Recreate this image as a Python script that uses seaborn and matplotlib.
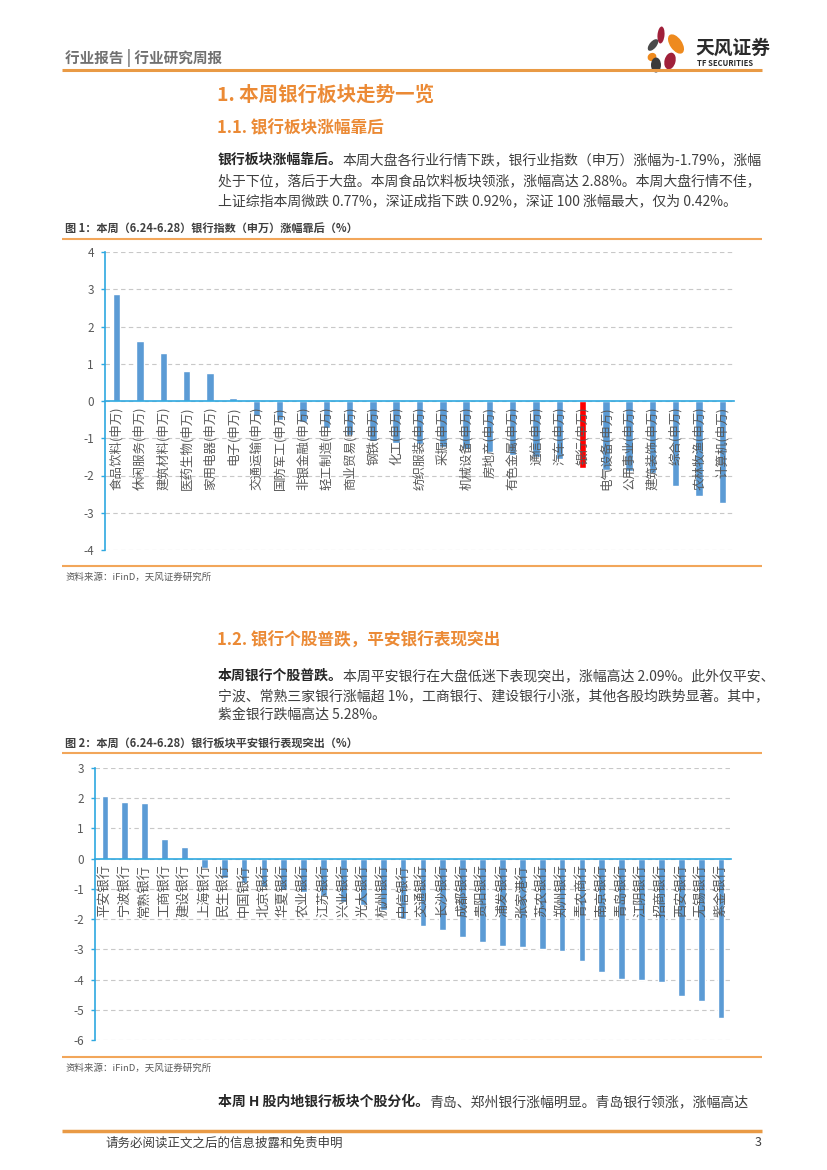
import matplotlib
matplotlib.use('Agg')
import matplotlib.pyplot as plt
import matplotlib.transforms as mtransforms
import seaborn as sns
import numpy as np
import pandas as pd
from matplotlib.patches import Ellipse

sns.set_theme(style='white')
plt.rcParams['font.family'] = ['Noto Sans CJK SC', 'DejaVu Sans']
plt.rcParams['axes.unicode_minus'] = False

# ---------------- data ----------------
industries = ['食品饮料(申万)', '休闲服务(申万)', '建筑材料(申万)', '医药生物(申万)', '家用电器(申万)',
              '电子(申万)', '交通运输(申万)', '国防军工(申万)', '非银金融(申万)', '轻工制造(申万)',
              '商业贸易(申万)', '钢铁(申万)', '化工(申万)', '纺织服装(申万)', '采掘(申万)',
              '机械设备(申万)', '房地产(申万)', '有色金属(申万)', '通信(申万)', '汽车(申万)',
              '银行(申万)', '电气设备(申万)', '公用事业(申万)', '建筑装饰(申万)', '综合(申万)',
              '农林牧渔(申万)', '计算机(申万)']
industry_change = [2.88, 1.61, 1.30, 0.80, 0.74, 0.07, -0.40, -0.50, -0.56, -0.73,
                   -0.90, -1.07, -1.12, -1.15, -1.24, -1.29, -1.38, -1.44, -1.51, -1.55,
                   -1.79, -1.84, -1.88, -1.92, -2.27, -2.55, -2.73]
highlight_industry = '银行(申万)'

banks = ['平安银行', '宁波银行', '常熟银行', '工商银行', '建设银行', '上海银行', '民生银行', '中国银行',
         '北京银行', '华夏银行', '农业银行', '江苏银行', '兴业银行', '光大银行', '杭州银行', '中信银行',
         '交通银行', '长沙银行', '成都银行', '贵阳银行', '浦发银行', '张家港行', '苏农银行', '郑州银行',
         '青农商行', '南京银行', '青岛银行', '江阴银行', '招商银行', '西安银行', '无锡银行', '紫金银行']
bank_change = [2.09, 1.86, 1.83, 0.66, 0.39, -0.32, -0.65, -0.82, -0.93, -1.04, -1.09, -1.25,
               -1.45, -1.53, -1.70, -1.98, -2.22, -2.36, -2.60, -2.75, -2.89, -2.92, -3.00, -3.07,
               -3.40, -3.74, -3.99, -4.01, -4.09, -4.53, -4.71, -5.28]

chart1_yticks = [-4, -3, -2, -1, 0, 1, 2, 3, 4]
chart2_yticks = [-6, -5, -4, -3, -2, -1, 0, 1, 2, 3]

# ---------------- styles ----------------
W, H = 827, 1170
BLUE = '#5B9BD5'
RED = '#FF0000'
AXIS = '#2EA8E0'
ORANGE = '#EB8A35'
LINE_OR = '#F2A65A'
TXT = '#3F3F3F'
GRAY = '#595959'

fig = plt.figure(figsize=(W / 100, H / 100), dpi=100)
deco = fig.add_axes([0, 0, 1, 1])
deco.set_xlim(0, W)
deco.set_ylim(H, 0)
deco.axis('off')
renderer = fig.canvas.get_renderer()


def px_axes(l, t, r, b):
    return fig.add_axes([l / W, 1 - b / H, (r - l) / W, (b - t) / H])


def bar_chart(ax, cats, vals, yticks, highlight=None, width=0.32, label_size=8.5):
    df = pd.DataFrame({'cat': cats, 'val': vals})
    colors = [RED if c == highlight else BLUE for c in cats]
    sns.barplot(data=df, x='cat', y='val', hue='cat', palette=colors, legend=False,
                width=width, saturation=1, ax=ax, zorder=2)
    n = len(cats)
    ax.set_xlim(-0.5, n - 0.5)
    ax.set_ylim(min(yticks), max(yticks))
    ax.set_yticks(yticks)
    ax.set_xlabel('')
    ax.set_ylabel('')
    ax.set_facecolor('none')
    ax.yaxis.grid(True, ls=(0, (4, 3)), color='#C8C8C8', lw=0.8)
    ax.xaxis.grid(False)
    ax.set_axisbelow(True)
    for s in ['top', 'right']:
        ax.spines[s].set_visible(False)
    ax.spines['bottom'].set_position(('data', 0))
    ax.spines['bottom'].set_color(AXIS)
    ax.spines['left'].set_color(AXIS)
    ax.spines['bottom'].set_linewidth(1.2)
    ax.spines['left'].set_linewidth(1.2)
    ax.spines['bottom'].set_zorder(3)
    ax.set_xticks(range(n))
    ax.set_xticklabels([''] * n)
    ax.set_xticks(np.arange(-0.5, n, 1), minor=True)
    ax.tick_params(axis='x', which='major', length=0, pad=3)
    ax.tick_params(axis='x', which='minor', length=3, color=AXIS, width=1, direction='out')
    ax.tick_params(axis='y', length=3, color=AXIS, width=1, direction='out',
                   labelsize=8.5, labelcolor=GRAY, pad=5, left=True)
    # category labels drawn over the bars, as in the original
    off = mtransforms.ScaledTranslation(0, -4 / 72, fig.dpi_scale_trans)
    trans = mtransforms.blended_transform_factory(ax.transData, ax.transData) + off
    for i, c in enumerate(cats):
        ax.text(i, 0, c, rotation=90, ha='center', va='top', fontsize=label_size,
                color=GRAY, transform=trans, zorder=5)


def hline(y, x0=62, x1=762, lw=1.5, color=LINE_OR):
    deco.plot([x0, x1], [y, y], color=color, lw=lw, solid_capstyle='butt')


def text_line(x, y, bold, rest, size=10, bold_color='#262626', color=TXT):
    cx = x
    if bold:
        t = deco.text(cx, y, bold, fontsize=size, fontweight='bold', color=bold_color, va='center')
        cx += t.get_window_extent(renderer).width
    if rest:
        deco.text(cx, y, rest, fontsize=size, color=color, va='center')


# ---------------- header ----------------
deco.text(65, 58, '行业报告 | 行业研究周报', fontsize=10.5, fontweight='bold', color='#707070', va='center')
hline(70, 62, 762, lw=2.2, color='#E99A45')
# logo petals
petals = [((661, 35), 7, 17, 5, '#A0203A'),
          ((676, 44), 12, 22, -35, '#EE8A1E'),
          ((653, 45), 7, 14, 40, '#4A4A4A'),
          ((652, 57), 8, 9, 60, '#EE8A1E'),
          ((670, 61), 11, 17, 15, '#A0203A'),
          ((656, 65), 10, 15, 0, '#3A3A3A')]
for (c, w, h, ang, col) in petals:
    deco.add_patch(Ellipse(c, w, h, angle=ang, color=col, lw=0))
deco.text(695, 48, '天风证券', fontsize=13.5, fontweight='bold', color='#2B2B2B', va='center')
deco.text(697, 64, 'TF SECURITIES', fontsize=5.5, fontweight='bold', color='#2B2B2B', va='center')

# ---------------- section 1 ----------------
deco.text(217, 95, '1. 本周银行板块走势一览', fontsize=14, fontweight='bold', color=ORANGE, va='center')
deco.text(217, 128, '1.1. 银行板块涨幅靠后', fontsize=12, fontweight='bold', color=ORANGE, va='center')
text_line(218, 160, '银行板块涨幅靠后。', '本周大盘各行业行情下跌，银行业指数（申万）涨幅为-1.79%，涨幅')
text_line(218, 181, '', '处于下位，落后于大盘。本周食品饮料板块领涨，涨幅高达 2.88%。本周大盘行情不佳，')
text_line(218, 201, '', '上证综指本周微跌 0.77%，深证成指下跌 0.92%，深证 100 涨幅最大，仅为 0.42%。')

deco.text(65, 228, '图 1：本周（6.24-6.28）银行指数（申万）涨幅靠后（%）', fontsize=8,
          fontweight='bold', color=TXT, va='center')
hline(239)

ax1 = px_axes(105, 252, 734, 550)
bar_chart(ax1, industries, industry_change, chart1_yticks, highlight=highlight_industry,
          width=0.32, label_size=9)

hline(566)
deco.text(65, 577, '资料来源：iFinD，天风证券研究所', fontsize=6.8, color=GRAY, va='center')

# ---------------- section 2 ----------------
deco.text(217, 641, '1.2. 银行个股普跌，平安银行表现突出', fontsize=12, fontweight='bold', color=ORANGE, va='center')
text_line(218, 676, '本周银行个股普跌。', '本周平安银行在大盘低迷下表现突出，涨幅高达 2.09%。此外仅平安、')
text_line(218, 696, '', '宁波、常熟三家银行涨幅超 1%，工商银行、建设银行小涨，其他各股均跌势显著。其中，')
text_line(218, 715, '', '紫金银行跌幅高达 5.28%。')

deco.text(65, 743, '图 2：本周（6.24-6.28）银行板块平安银行表现突出（%）', fontsize=8,
          fontweight='bold', color=TXT, va='center')
hline(753)

ax2 = px_axes(95, 768, 731, 1040)
bar_chart(ax2, banks, bank_change, chart2_yticks, width=0.34, label_size=9.5)

hline(1057)
deco.text(65, 1068, '资料来源：iFinD，天风证券研究所', fontsize=6.8, color=GRAY, va='center')

text_line(218, 1102, '本周 H 股内地银行板块个股分化。', '青岛、郑州银行涨幅明显。青岛银行领涨，涨幅高达')

# ---------------- footer ----------------
hline(1131, 62, 762, lw=2.5, color='#E99A45')
deco.text(105, 1143, '请务必阅读正文之后的信息披露和免责申明', fontsize=9, color=TXT, va='center')
deco.text(762, 1143, '3', fontsize=9, color=TXT, va='center', ha='right')

fig.savefig('out.png', dpi=100)
